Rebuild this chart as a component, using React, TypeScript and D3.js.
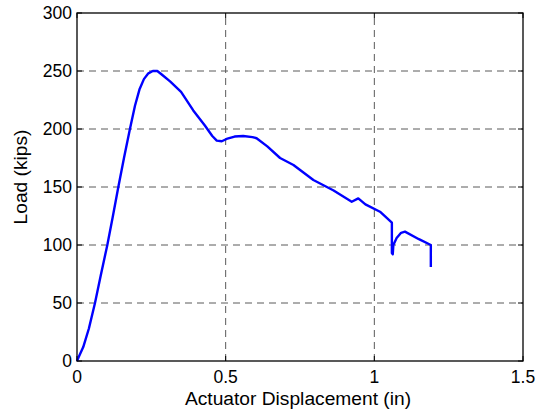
import React from "react";
import * as d3 from "d3";

// Load–displacement record from the actuator
const displacement = [
  0, 0.005, 0.021, 0.04, 0.0605, 0.08, 0.102, 0.12, 0.139, 0.158, 0.178, 0.195,
  0.21, 0.225, 0.24, 0.255, 0.27, 0.285, 0.313, 0.35, 0.391, 0.43, 0.455, 0.47,
  0.487, 0.503, 0.53, 0.559, 0.59, 0.604, 0.64, 0.683, 0.728, 0.795, 0.863,
  0.924, 0.946, 0.97, 1.019, 1.059, 1.059, 1.062, 1.064, 1.075, 1.09, 1.103,
  1.15, 1.19, 1.19,
];
const load = [
  0, 3, 12, 28, 50, 74, 100, 124, 150, 175, 200, 220,
  234, 243, 248, 250, 250, 247, 241, 232, 216, 203, 194, 190,
  189.4, 191.4, 193.5, 194, 193, 192, 185, 175, 169, 156, 147,
  137.3, 140.2, 135, 128.7, 119.2, 93, 92, 100, 106, 110.5, 111.5,
  105, 100, 81,
];

const xTicks = [0, 0.5, 1, 1.5];
const xTickLabels = ["0", "0.5", "1", "1.5"];
const yTicks = [0, 50, 100, 150, 200, 250, 300];
const yTickLabels = ["0", "50", "100", "150", "200", "250", "300"];

const W = 542;
const H = 411;
const M = { left: 77, right: 19, top: 13, bottom: 50 };
const FONT = "'Liberation Sans', Arial, Helvetica, sans-serif";

export default function App() {
  const x = d3.scaleLinear().domain([0, 1.5]).range([M.left, W - M.right]);
  const y = d3.scaleLinear().domain([0, 300]).range([H - M.bottom, M.top]);
  const pts: [number, number][] = displacement.map((d, i) => [d, load[i]]);
  const line = d3
    .line<[number, number]>()
    .x((p) => x(p[0]))
    .y((p) => y(p[1]));

  const x0 = x(0), x1 = x(1.5), y0 = y(0), y1 = y(300);
  const tickLen = 5;

  return (
    <svg
      width={W}
      height={H}
      style={{ position: "absolute", left: 0, top: 0, background: "#fff" }}
      fontFamily={FONT}
    >
      <rect x={0} y={0} width={W} height={H} fill="#fff" />
      {/* grid */}
      {xTicks.slice(1, -1).map((t) => (
        <line key={"gx" + t} x1={x(t)} x2={x(t)} y1={y0} y2={y1}
          stroke="#5a5a5a" strokeWidth={1} strokeDasharray="7,5" />
      ))}
      {yTicks.slice(1, -1).map((t) => (
        <line key={"gy" + t} x1={x0} x2={x1} y1={y(t)} y2={y(t)}
          stroke="#5a5a5a" strokeWidth={1} strokeDasharray="7,5" />
      ))}
      {/* ticks */}
      {xTicks.map((t) => (
        <g key={"tx" + t}>
          <line x1={x(t)} x2={x(t)} y1={y0} y2={y0 - tickLen} stroke="#000" />
          <line x1={x(t)} x2={x(t)} y1={y1} y2={y1 + tickLen} stroke="#000" />
        </g>
      ))}
      {yTicks.map((t) => (
        <g key={"ty" + t}>
          <line x1={x0} x2={x0 + tickLen} y1={y(t)} y2={y(t)} stroke="#000" />
          <line x1={x1} x2={x1 - tickLen} y1={y(t)} y2={y(t)} stroke="#000" />
        </g>
      ))}
      {/* data */}
      <path d={line(pts) ?? ""} fill="none" stroke="#0000ff" strokeWidth={2.4}
        strokeLinejoin="round" />
      {/* frame */}
      <rect x={x0} y={y1} width={x1 - x0} height={y0 - y1} fill="none"
        stroke="#000" strokeWidth={1.3} />
      {/* tick labels */}
      {xTicks.map((t, i) => (
        <text key={"lx" + t} x={x(t)} y={y0 + 22} textAnchor="middle"
          fontSize={17.5} fill="#000">{xTickLabels[i]}</text>
      ))}
      {yTicks.map((t, i) => (
        <text key={"ly" + t} x={x0 - 5} y={y(t) + 6} textAnchor="end"
          fontSize={17.5} fill="#000">{yTickLabels[i]}</text>
      ))}
      {/* axis titles */}
      <text x={298} y={405} textAnchor="middle" fontSize={19.2} fill="#000">
        Actuator Displacement (in)
      </text>
      <text transform={`translate(27,177) rotate(-90)`} textAnchor="middle"
        fontSize={19.2} fill="#000">
        Load (kips)
      </text>
    </svg>
  );
}
